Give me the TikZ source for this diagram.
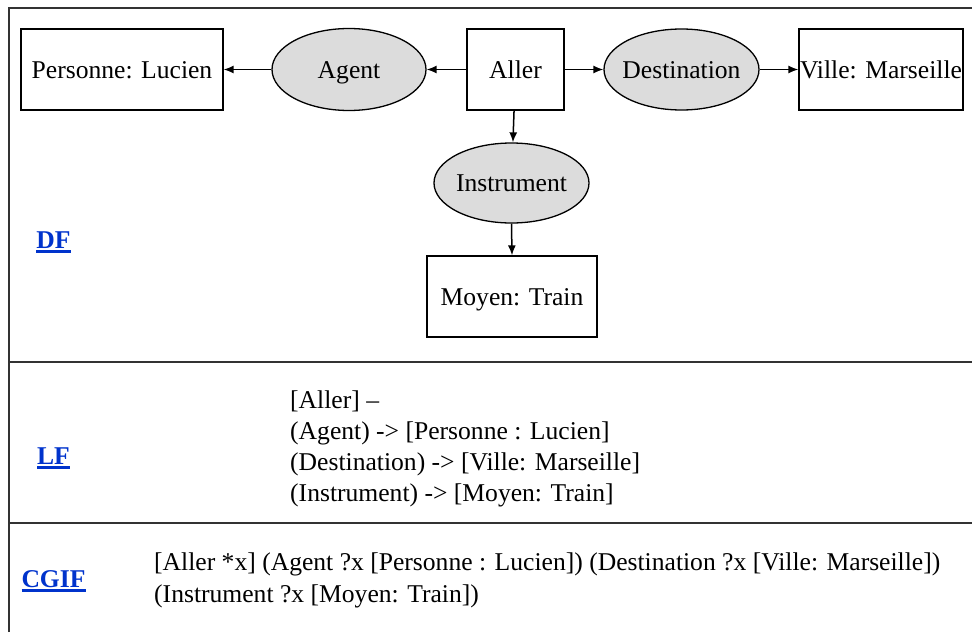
\documentclass[tikz,border=0pt]{standalone}
\usepackage{fontspec}
\setmainfont{Liberation Serif}
\usetikzlibrary{shapes.geometric,arrows.meta}
\definecolor{linkblue}{RGB}{0,51,204}
\definecolor{ellfill}{RGB}{220,220,220}
\definecolor{framegray}{RGB}{51,51,51}
\newcommand\lnklabel[1]{\setbox0\hbox{\bfseries #1}\rlap{\rule[-4.5pt]{\wd0}{2.7pt}}\box0}
\newcommand\ctext[1]{\makebox[0pt][c]{#1}}
\begin{document}
\begin{tikzpicture}[x=1pt,y=-1pt,font=\fontsize{25.6}{31}\selectfont,
  concept/.style={draw,line width=1.3pt,rectangle,inner sep=0pt,minimum height=81pt,text height=17pt,text depth=0pt},
  relation/.style={draw,line width=1.3pt,ellipse,fill=ellfill,inner sep=0pt,minimum width=155pt,minimum height=81pt,text height=17pt,text depth=0pt},
  link/.style={line width=1.5pt,-{Latex[length=10pt,width=8pt]}},
  framerule/.style={draw=framegray,line width=2pt},
  lbl/.style={text=linkblue,inner sep=0pt,anchor=base},
  code/.style={inner sep=0pt,anchor=base west}]
\useasboundingbox (0,0) rectangle (972,632);
% frame
\draw[framerule] (9,632) -- (9,8) -- (972,8);
\draw[framerule] (9,361.5) -- (972,361.5);
\draw[framerule] (9,523) -- (972,523);
% graph
\node[concept,minimum width=202pt] (pers) at (122,69.5) {Personne: Lucien};
\node[relation,minimum width=154pt,minimum height=82pt] (agent) at (349,69.5) {\ctext{Agent}};
\node[concept,minimum width=97pt] (aller) at (515.5,69.5) {Aller};
\node[relation] (dest) at (681.5,69.5) {\ctext{Destination}};
\node[concept,minimum width=164pt] (ville) at (881,69.5) {Ville: Marseille};
\node[relation,minimum height=80pt] (instr) at (511.5,183) {\ctext{Instrument}};
\node[concept,minimum width=170pt] (moyen) at (512,296.5) {Moyen: Train};
\draw[link] (aller) -- (agent);
\draw[link] (agent) -- (pers);
\draw[link] (aller) -- (dest);
\draw[link] (dest) -- (ville);
\draw[link] (aller) -- (instr);
\draw[link] (instr.south) -- (moyen.north);
% labels
\node[lbl] (df) at (53.5,248) {\lnklabel{DF}};
\node[lbl] (lf) at (53.5,464) {\lnklabel{LF}};
\node[lbl] (cgif) at (53.5,587) {\lnklabel{CGIF}};
% LF text
\node[code] (lf1) at (290,408) {[Aller] –};
\node[code] (lf2) at (290,439) {(Agent) -> [Personne : Lucien]};
\node[code] (lf3) at (290,470) {(Destination) -> [Ville: Marseille]};
\node[code] (lf4) at (290,501) {(Instrument) -> [Moyen: Train]};
% CGIF text
\node[code] (cg1) at (154,570) {[Aller *x] (Agent ?x [Personne : Lucien]) (Destination ?x [Ville: Marseille])};
\node[code] (cg2) at (154,602) {(Instrument ?x [Moyen: Train])};
\end{tikzpicture}
\end{document}
